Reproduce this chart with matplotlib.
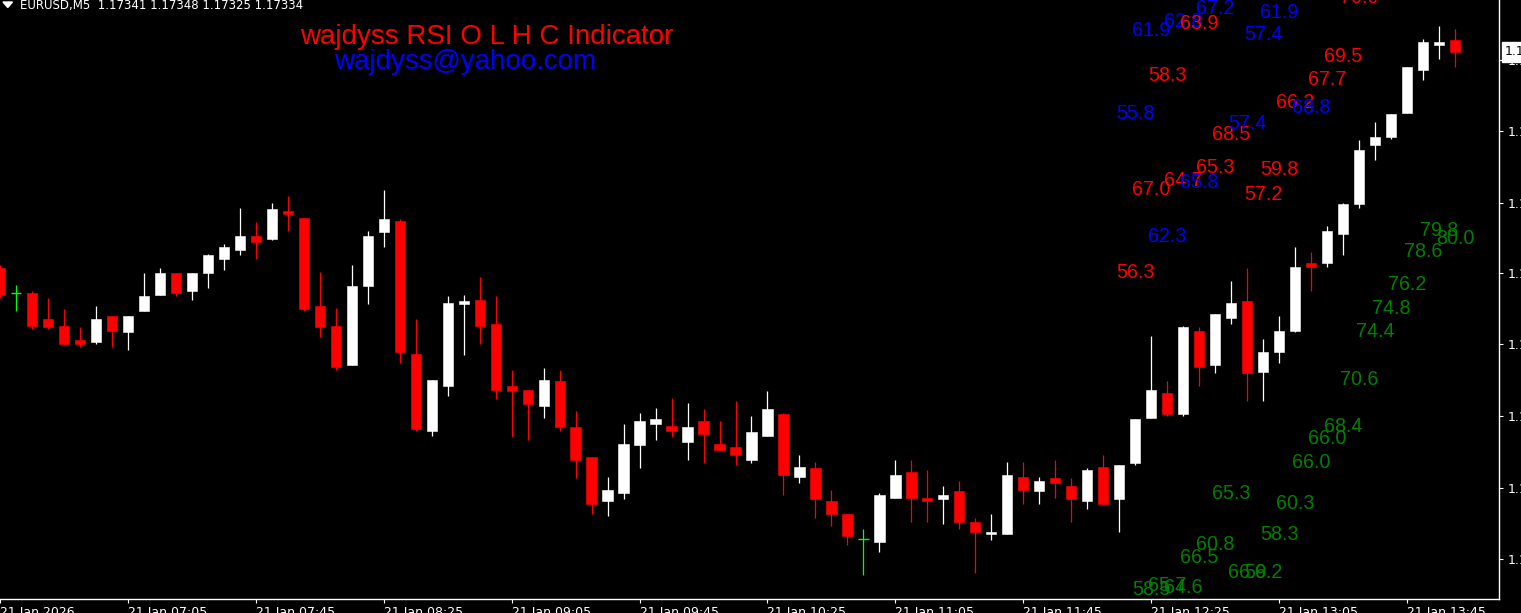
import matplotlib
matplotlib.use("Agg")
import matplotlib.pyplot as plt

W, H = 1521, 613

# EURUSD M5 candles, 21 Jan 2026 06:25 .. 14:00
opens = [1.17202, 1.17187, 1.17187, 1.17171, 1.17167, 1.17158, 1.17157, 1.17173, 1.17163, 1.17176,
         1.17186, 1.17199, 1.17188, 1.17199, 1.17208, 1.17213, 1.17222, 1.17220, 1.17237, 1.17233,
         1.17179, 1.17167, 1.17143, 1.17191, 1.17224, 1.17231, 1.17150, 1.17103, 1.17130, 1.17180,
         1.17183, 1.17168, 1.17130, 1.17128, 1.17118, 1.17133, 1.17105, 1.17087, 1.17060, 1.17065,
         1.17094, 1.17107, 1.17106, 1.17096, 1.17109, 1.17095, 1.17093, 1.17085, 1.17100, 1.17113,
         1.17075, 1.17080, 1.17060, 1.17052, 1.17037, 1.17035, 1.17062, 1.17078, 1.17062, 1.17061,
         1.17066, 1.17047, 1.17040, 1.17040, 1.17075, 1.17066, 1.17074, 1.17069, 1.17060, 1.17081,
         1.17061, 1.17083, 1.17111, 1.17126, 1.17113, 1.17164, 1.17143, 1.17172, 1.17182, 1.17139,
         1.17151, 1.17164, 1.17205, 1.17205, 1.17223, 1.17241, 1.17277, 1.17282, 1.17297, 1.17323,
         1.17338, 1.17341]
highs = [1.17204, 1.17192, 1.17188, 1.17184, 1.17177, 1.17166, 1.17179, 1.17173, 1.17173, 1.17199,
         1.17202, 1.17199, 1.17199, 1.17211, 1.17217, 1.17239, 1.17230, 1.17242, 1.17246, 1.17233,
         1.17200, 1.17178, 1.17204, 1.17225, 1.17250, 1.17232, 1.17171, 1.17134, 1.17185, 1.17186,
         1.17197, 1.17185, 1.17140, 1.17128, 1.17141, 1.17140, 1.17115, 1.17087, 1.17075, 1.17107,
         1.17114, 1.17117, 1.17123, 1.17120, 1.17116, 1.17109, 1.17121, 1.17112, 1.17127, 1.17114,
         1.17088, 1.17084, 1.17067, 1.17052, 1.17043, 1.17065, 1.17085, 1.17085, 1.17079, 1.17069,
         1.17072, 1.17050, 1.17052, 1.17084, 1.17084, 1.17075, 1.17085, 1.17074, 1.17080, 1.17088,
         1.17082, 1.17110, 1.17161, 1.17133, 1.17167, 1.17166, 1.17174, 1.17194, 1.17202, 1.17159,
         1.17173, 1.17215, 1.17212, 1.17228, 1.17242, 1.17280, 1.17291, 1.17296, 1.17325, 1.17342,
         1.17350, 1.17348]
lows = [1.17184, 1.17176, 1.17165, 1.17165, 1.17156, 1.17154, 1.17156, 1.17154, 1.17152, 1.17176,
        1.17186, 1.17185, 1.17183, 1.17190, 1.17201, 1.17210, 1.17208, 1.17219, 1.17225, 1.17176,
        1.17160, 1.17140, 1.17143, 1.17180, 1.17215, 1.17144, 1.17103, 1.17100, 1.17124, 1.17149,
        1.17156, 1.17122, 1.17099, 1.17097, 1.17111, 1.17103, 1.17074, 1.17052, 1.17051, 1.17061,
        1.17080, 1.17097, 1.17099, 1.17085, 1.17083, 1.17091, 1.17082, 1.17083, 1.17100, 1.17064,
        1.17071, 1.17050, 1.17045, 1.17033, 1.17015, 1.17029, 1.17062, 1.17047, 1.17047, 1.17046,
        1.17043, 1.17016, 1.17036, 1.17040, 1.17058, 1.17058, 1.17062, 1.17047, 1.17055, 1.17058,
        1.17041, 1.17082, 1.17111, 1.17112, 1.17112, 1.17130, 1.17138, 1.17168, 1.17121, 1.17121,
        1.17144, 1.17163, 1.17188, 1.17203, 1.17210, 1.17239, 1.17268, 1.17281, 1.17297, 1.17317,
        1.17330, 1.17325]
closes = [1.17186, 1.17187, 1.17167, 1.17166, 1.17156, 1.17156, 1.17171, 1.17164, 1.17173, 1.17185,
          1.17199, 1.17187, 1.17199, 1.17210, 1.17215, 1.17222, 1.17218, 1.17238, 1.17235, 1.17177,
          1.17166, 1.17142, 1.17191, 1.17222, 1.17232, 1.17151, 1.17104, 1.17134, 1.17181, 1.17182,
          1.17167, 1.17128, 1.17127, 1.17119, 1.17134, 1.17105, 1.17085, 1.17058, 1.17067, 1.17095,
          1.17109, 1.17110, 1.17103, 1.17105, 1.17101, 1.17091, 1.17088, 1.17102, 1.17116, 1.17076,
          1.17081, 1.17061, 1.17052, 1.17039, 1.17037, 1.17064, 1.17076, 1.17062, 1.17060, 1.17064,
          1.17047, 1.17041, 1.17041, 1.17076, 1.17067, 1.17072, 1.17071, 1.17061, 1.17079, 1.17058,
          1.17082, 1.17110, 1.17128, 1.17113, 1.17166, 1.17142, 1.17174, 1.17181, 1.17138, 1.17151,
          1.17164, 1.17203, 1.17203, 1.17225, 1.17241, 1.17274, 1.17282, 1.17296, 1.17325, 1.17340,
          1.17340, 1.17334]

time_labels = ["21 Jan 2026", "21 Jan 07:05", "21 Jan 07:45", "21 Jan 08:25", "21 Jan 09:05",
               "21 Jan 09:45", "21 Jan 10:25", "21 Jan 11:05", "21 Jan 11:45", "21 Jan 12:25",
               "21 Jan 13:05", "21 Jan 13:45"]
price_ticks = [1.17329, 1.17286, 1.17242, 1.17199, 1.17156, 1.17112, 1.17068, 1.17025]

# RSI labels printed by the indicator: candle index, text, price level
red_idx = [71, 72, 73, 74, 75, 76, 77, 79, 80, 81, 83, 84, 85]
red_txt = ["56.3", "67.0", "58.3", "64.7", "63.9", "65.3", "68.5", "57.2", "59.8", "66.2", "67.7", "69.5", "70.0"]
red_lvl = [1.17196, 1.17247, 1.17316, 1.17252, 1.17348, 1.17260, 1.17280, 1.17244, 1.17259, 1.17300,
           1.17314, 1.17328, 1.17364]

blue_idx = [71, 72, 73, 74, 75, 76, 78, 79, 80, 82]
blue_txt = ["55.8", "61.9", "62.3", "62.8", "65.8", "67.2", "57.4", "57.4", "61.9", "68.8"]
blue_lvl = [1.17293, 1.17344, 1.17218, 1.17349, 1.17251, 1.17357, 1.17287, 1.17341, 1.17355, 1.17297]

green_idx = list(range(72, 92))
green_txt = ["58.5", "65.7", "64.6", "66.5", "60.8", "65.3", "66.9", "56.2", "58.3", "60.3",
             "66.0", "66.0", "68.4", "70.6", "74.4", "74.8", "76.2", "78.6", "79.8", "80.0"]
green_lvl = [1.17003, 1.17005, 1.17004, 1.17022, 1.17030, 1.17061, 1.17013, 1.17013, 1.17036, 1.17055,
             1.17080, 1.17095, 1.17102, 1.17131, 1.17160, 1.17174, 1.17189, 1.17209, 1.17222, 1.17217]


fig = plt.figure(figsize=(W / 100, H / 100), dpi=100)
fig.patch.set_facecolor("black")
ax = fig.add_axes([0, (H - 599) / H, 1499 / W, 599 / H])
ax.set_facecolor("black")

# candles
for i in range(len(opens)):
    o, h, l, c = opens[i], highs[i], lows[i], closes[i]
    if c > o:
        col = "white"
    elif c < o:
        col = "red"
    else:
        col = "#00ff00"
    ax.vlines(i, l, h, color=col, lw=0.9, zorder=2)
    if c == o:
        ax.hlines(o, i - 0.34, i + 0.34, color=col, lw=1.0, zorder=2)
    else:
        ax.bar(i, abs(c - o), bottom=min(o, c), width=0.64, color=col,
               edgecolor=col, linewidth=0.4, zorder=2)

# indicator numbers, later candles drawn on top
for idx, txt, lvl, col in ([(a, b, c, "#0000ff") for a, b, c in zip(blue_idx, blue_txt, blue_lvl)] +
                           [(a, b, c, "#ff0000") for a, b, c in zip(red_idx, red_txt, red_lvl)] +
                           [(a, b, c, "#008000") for a, b, c in zip(green_idx, green_txt, green_lvl)]):
    ax.text(idx, lvl, txt, color=col, fontsize=14.2, family="Liberation Sans",
            ha="center", va="baseline", zorder=3 + idx * 0.01)

ax.set_xlim(1 / 16, 1500 / 16)
ax.set_ylim(1.170003, 1.173657)

for s in ["top", "left"]:
    ax.spines[s].set_visible(False)
for s in ["right", "bottom"]:
    ax.spines[s].set_color("white")
    ax.spines[s].set_linewidth(1.0)

ax.set_xticks(range(0, 8 * len(time_labels), 8))
ax.set_xticklabels(time_labels, ha="left")
ax.tick_params(axis="x", colors="white", direction="out", length=3, width=0.8,
               labelsize=9, pad=2)

ax.yaxis.tick_right()
ax.set_yticks(price_ticks)
ax.set_yticklabels(["%.5f" % p for p in price_ticks])
ax.tick_params(axis="y", colors="white", direction="out", length=3, width=0.8,
               labelsize=9, pad=3)

# current price marker
ax.annotate("%.5f" % closes[-1], xy=(1, closes[-1]), xycoords=ax.get_yaxis_transform(),
            xytext=(6, 0), textcoords="offset pixels", ha="left", va="center",
            color="black", fontsize=9, annotation_clip=False, zorder=10,
            bbox=dict(boxstyle="square,pad=0.25", fc="white", ec="white"))

# header
fig.patches.append(plt.Polygon([[3 / W, 1 - 2 / H], [12.5 / W, 1 - 2 / H], [7.75 / W, 1 - 7.5 / H]],
                               closed=True, color="white", transform=fig.transFigure))
fig.text(20 / W, 1 - 9.5 / H, "EURUSD,M5  1.17341 1.17348 1.17325 1.17334",
         color="white", fontsize=8.5, va="baseline", ha="left")

fig.text(300 / W, 1 - 44 / H, "wajdyss RSI O L H C Indicator", color="#ff0000",
         fontsize=20, family="Liberation Sans", va="baseline", ha="left")
fig.text(334 / W, 1 - 69 / H, "wajdyss@yahoo.com", color="#0000ff",
         fontsize=20, family="Liberation Sans", va="baseline", ha="left")

fig.savefig("out.png", dpi=100, facecolor="black")
